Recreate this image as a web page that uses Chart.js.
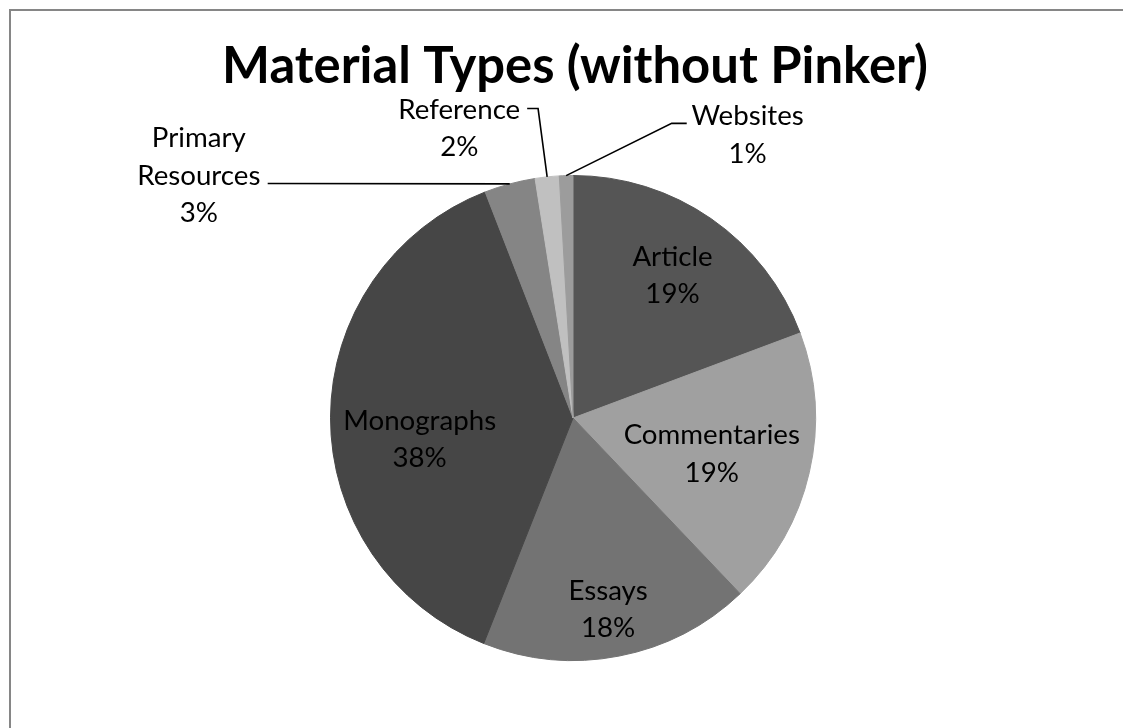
<!DOCTYPE html>
<html><head><meta charset="utf-8">
<script src="https://cdn.jsdelivr.net/npm/chart.js@4/dist/chart.umd.min.js"></script>
<style>html,body{margin:0;padding:0;background:#fff}canvas{display:block}</style>
</head><body>
<canvas id="c" width="1123" height="728"></canvas>
<script>
// ---- data ----
const categories = ['Article', 'Commentaries', 'Essays', 'Monographs', 'Primary Resources', 'Reference', 'Websites'];
const shares = [19.3, 18.6, 18.1, 38.1, 3.4, 1.6, 0.9];
const chartTitle = 'Material Types (without Pinker)';

// ---- styles ----
const sliceColors = ['#555555', '#a0a0a0', '#737373', '#464646', '#858585', '#c0c0c0', '#9c9c9c'];
const FONT = 'Lato, "Open Sans", sans-serif';

// label layout (units of radius relative to pie centre / radians)
const labelLayout = [
  { lines: ['Article'], inside: true, frac: 0.72, adj: 0 },
  { lines: ['Commentaries'], inside: true, frac: 0.59, adj: 0.02 },
  { lines: ['Essays'], inside: true, frac: 0.80, adj: 0.01 },
  { lines: ['Monographs'], inside: true, frac: 0.638, adj: -0.136 },
  { lines: ['Primary', 'Resources'], inside: false, block: [-1.543, -1.004], leader: [[-1.259, -0.967]] },
  { lines: ['Reference'], inside: false, block: [-0.469, -1.199], leader: [[-0.189, -1.276], [-0.144, -1.276]] },
  { lines: ['Websites'], inside: false, block: [0.720, -1.171], leader: [[0.469, -1.215], [0.407, -1.215]] }
];

function fitSize(ctx, text, weight, target) {
  ctx.font = weight + ' 100px ' + FONT;
  return 100 * target / ctx.measureText(text).width;
}

const framePlugin = {
  id: 'frame',
  beforeDraw(chart) {
    const ctx = chart.ctx;
    ctx.save();
    ctx.fillStyle = '#ffffff';
    ctx.fillRect(0, 0, chart.width, chart.height);
    ctx.fillStyle = '#868686';
    ctx.fillRect(9, 9, chart.width, 2);
    ctx.fillRect(9, 9, 2, chart.height);
    // title
    const ts = fitSize(ctx, chartTitle, 'bold', 706);
    ctx.font = 'bold ' + ts + 'px ' + FONT;
    ctx.fillStyle = '#000';
    ctx.textAlign = 'center';
    ctx.textBaseline = 'alphabetic';
    ctx.fillText(chartTitle, 575, 83);
    ctx.restore();
  }
};

const labelPlugin = {
  id: 'sliceLabels',
  afterDatasetsDraw(chart) {
    const ctx = chart.ctx;
    const meta = chart.getDatasetMeta(0);
    const data = chart.data.datasets[0].data;
    const total = data.reduce((a, b) => a + b, 0);
    const fs = fitSize(ctx, 'Monographs', 'normal', 153);
    ctx.save();
    ctx.font = 'normal ' + fs + 'px ' + FONT;
    const capH = ctx.measureText('H').actualBoundingBoxAscent;
    const lh = 37.3;
    ctx.fillStyle = '#000';
    ctx.strokeStyle = '#000';
    ctx.lineWidth = 1.6;
    ctx.textAlign = 'center';
    ctx.textBaseline = 'alphabetic';
    meta.data.forEach((arc, i) => {
      const p = arc.getProps(['x', 'y', 'startAngle', 'endAngle', 'outerRadius'], true);
      const r = p.outerRadius;
      const mid = (p.startAngle + p.endAngle) / 2;
      const L = labelLayout[i];
      const lines = L.lines.concat([Math.round(data[i] / total * 100) + '%']);
      let cx, cy;
      if (L.inside) {
        const a = mid + L.adj;
        cx = p.x + Math.cos(a) * L.frac * r;
        cy = p.y + Math.sin(a) * L.frac * r;
      } else {
        cx = p.x + L.block[0] * r;
        cy = p.y + L.block[1] * r;
        const ex = p.x + Math.cos(mid) * r;
        const ey = p.y + Math.sin(mid) * r;
        ctx.beginPath();
        L.leader.forEach((pt, k) => {
          const X = p.x + pt[0] * r, Y = p.y + pt[1] * r;
          if (k === 0) ctx.moveTo(X, Y); else ctx.lineTo(X, Y);
        });
        ctx.lineTo(ex, ey);
        ctx.stroke();
      }
      const n = lines.length;
      lines.forEach((t, k) => {
        const midY = cy + (k - (n - 1) / 2) * lh;
        ctx.fillText(t, cx, midY + capH / 2);
      });
    });
    ctx.restore();
  }
};

new Chart(document.getElementById('c'), {
  type: 'pie',
  data: {
    labels: categories,
    datasets: [{
      data: shares,
      backgroundColor: sliceColors,
      borderColor: sliceColors,
      borderWidth: 1,
      hoverOffset: 0
    }]
  },
  options: {
    responsive: false,
    animation: false,
    layout: { padding: { left: 273, right: 250, top: 175, bottom: 67 } },
    plugins: {
      legend: { display: false },
      tooltip: { enabled: false },
      title: { display: false }
    }
  },
  plugins: [framePlugin, labelPlugin]
});
</script>
</body></html>
